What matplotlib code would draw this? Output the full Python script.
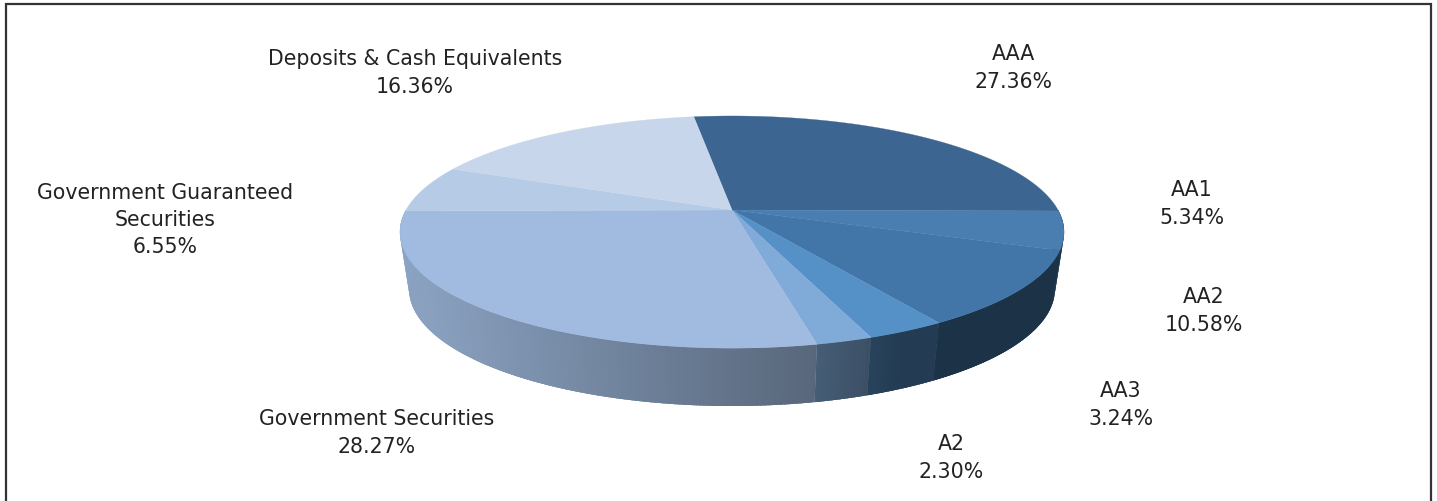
""" Credit rating breakdown drawn as a tilted 3D pie """
import numpy as np
import matplotlib
matplotlib.use('Agg')
import matplotlib.pyplot as plt

plt.rcParams['font.family'] = ['DejaVu Sans']

labels = ['AAA', 'AA1', 'AA2', 'AA3', 'A2', 'Government Securities',
          'Government Guaranteed\nSecurities', 'Deposits & Cash Equivalents']
shares = [27.36, 5.34, 10.58, 3.24, 2.30, 28.27, 6.55, 16.36]
colors = ['#3d6591', '#4a7eb0', '#4276a8', '#5590c6', '#80aad8', '#a0bbdf',
          '#b6cce6', '#c7d6ea']
label_pos = [(1013, 68), (1192, 204), (1204, 311), (1121, 405), (951, 458),
             (377, 433), (165, 220), (415, 73)]

# Perspective set-up of the disc, in pixels
CX, TOP_Y, BOTTOM_Y = 732, 211, 268
RX, RY, TILT = 326, 111.9, 0.19
BOTTOM_RX, BOTTOM_RY = 317, 112.6
START = -8  # degrees clockwise from 12 o'clock


def project(theta, apex_y, rx, ry):
    """Map a clockwise angle on the unit circle to screen pixels."""
    u, v = np.sin(np.radians(theta)), np.cos(np.radians(theta))
    w = 1 + TILT * v
    return CX + rx * u / w, apex_y - ry * v / w


def wall_shade(x):
    # Side wall darkens from left to right, flat at the dark end
    return np.interp(x, [405, 815, 900, 1060], [0.87, 0.55, 0.42, 0.42])


fig = plt.figure(figsize=(14.37, 5.02), dpi=100)
ax = fig.add_axes([0, 0, 1, 1])
ax.set_xlim(0, 1437)
ax.set_ylim(502, 0)
ax.axis('off')

edges = START + np.concatenate([[0], np.cumsum(shares)]) * 3.6

# Side wall first, the top surface is painted over it
for i, color in enumerate(colors):
    rgb = np.array(matplotlib.colors.to_rgb(color))
    lo, hi = max(edges[i], 90), min(edges[i + 1], 270)
    if lo >= hi:
        continue
    arc = np.linspace(lo, hi, 120)
    xt, yt = project(arc, TOP_Y, RX, RY)
    xb, yb = project(arc, BOTTOM_Y, BOTTOM_RX, BOTTOM_RY)
    # solid base so the gradient strips leave no seams
    ax.fill(np.r_[xt, xb[::-1]], np.r_[yt, yb[::-1]],
            color=rgb * wall_shade(xt.mean()), lw=0, zorder=1)
    steps = np.arange(lo, hi, 0.6)
    for a in steps:
        b = min(a + 1.0, hi)
        xt, yt = project(np.array([a, b]), TOP_Y, RX, RY)
        xb, yb = project(np.array([b, a]), BOTTOM_Y, BOTTOM_RX, BOTTOM_RY)
        ax.fill(np.r_[xt, xb], np.r_[yt, yb],
                color=rgb * wall_shade(xt.mean()), lw=0, zorder=1)

# Top surface
for i, color in enumerate(colors):
    x, y = project(np.linspace(edges[i], edges[i + 1], 200), TOP_Y, RX, RY)
    ax.fill(np.r_[CX, x], np.r_[TOP_Y, y], color=color, lw=0.2, zorder=2)

for name, share, (lx, ly) in zip(labels, shares, label_pos):
    ax.text(lx, ly, f'{name}\n{share:.2f}%', ha='center', va='center',
            fontsize=14.8, color='#222222', linespacing=1.45, zorder=3)

# Chart frame, runs off the bottom of the canvas
ax.plot([6, 6, 1431, 1431], [502, 5, 5, 502], color='#333333', lw=1.6,
        solid_joinstyle='miter', zorder=4)

fig.savefig('out.png', dpi=100)
